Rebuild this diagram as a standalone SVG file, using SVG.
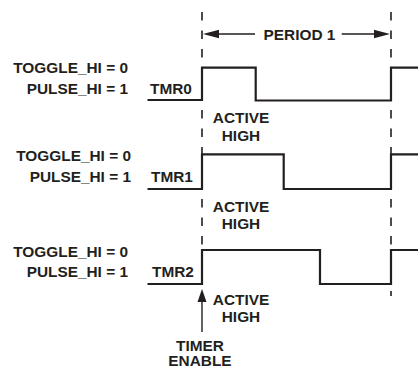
<svg xmlns="http://www.w3.org/2000/svg" width="418" height="369" viewBox="0 0 418 369">
<style>
text{font-family:"Liberation Sans",Arial,sans-serif;font-weight:bold;font-size:15.4px;fill:#231f20}
.r{text-anchor:end}
.m{text-anchor:middle}
.w{fill:none;stroke:#231f20;stroke-width:2.2;stroke-linejoin:miter}
.d{fill:none;stroke:#231f20;stroke-width:1.6;stroke-dasharray:8.5 10}
.s{fill:none;stroke:#231f20;stroke-width:1.4}
.h{fill:#231f20;stroke:none}
</style>
<rect width="418" height="369" fill="#fff"/>
<g id="connectors">
<path class="d" d="M202 12V67M202 110V154M202 199V250"/>
<path class="d" d="M391 12V67M391 110V154M391 199V250M391 291V296"/>
<path class="s" d="M214 34H255M341.7 34H378"/>
<polygon class="h" points="203,34 219,29.8 219,38.2"/>
<polygon class="h" points="390,34 374,29.8 374,38.2"/>
<path class="s" d="M202 332V298"/>
<polygon class="h" points="202,289 197.5,302 206.5,302"/>
</g>
<g id="period"><text x="299.5" y="39.5" class="m">PERIOD 1</text></g>
<g id="tmr0">
<text x="128" y="73.3" class="r">TOGGLE_HI = 0</text>
<text x="128" y="94" class="r">PULSE_HI = 1</text>
<text x="150" y="94.3">TMR0</text>
<path class="w" d="M147.5 100H202V67.7H255.7V100.5H391V67.7H418"/>
<text x="241" y="123" class="m">ACTIVE</text>
<text x="241" y="140.7" class="m">HIGH</text>
</g>
<g id="tmr1">
<text x="131" y="160.7" class="r">TOGGLE_HI = 0</text>
<text x="131" y="181.7" class="r">PULSE_HI = 1</text>
<text x="151" y="181.7">TMR1</text>
<path class="w" d="M147.5 189H202V154.3H283.7V189H391V154.3H418"/>
<text x="241" y="211.7" class="m">ACTIVE</text>
<text x="241" y="229.3" class="m">HIGH</text>
</g>
<g id="tmr2">
<text x="128" y="256.7" class="r">TOGGLE_HI = 0</text>
<text x="128" y="276.7" class="r">PULSE_HI = 1</text>
<text x="152" y="276.7">TMR2</text>
<path class="w" d="M147.5 284H202V250H320V284H391V250H418"/>
<text x="241" y="305" class="m">ACTIVE</text>
<text x="241" y="321.7" class="m">HIGH</text>
</g>
<g id="timer-enable">
<text x="200" y="350.5" class="m">TIMER</text>
<text x="200" y="366" class="m">ENABLE</text>
</g>
</svg>
